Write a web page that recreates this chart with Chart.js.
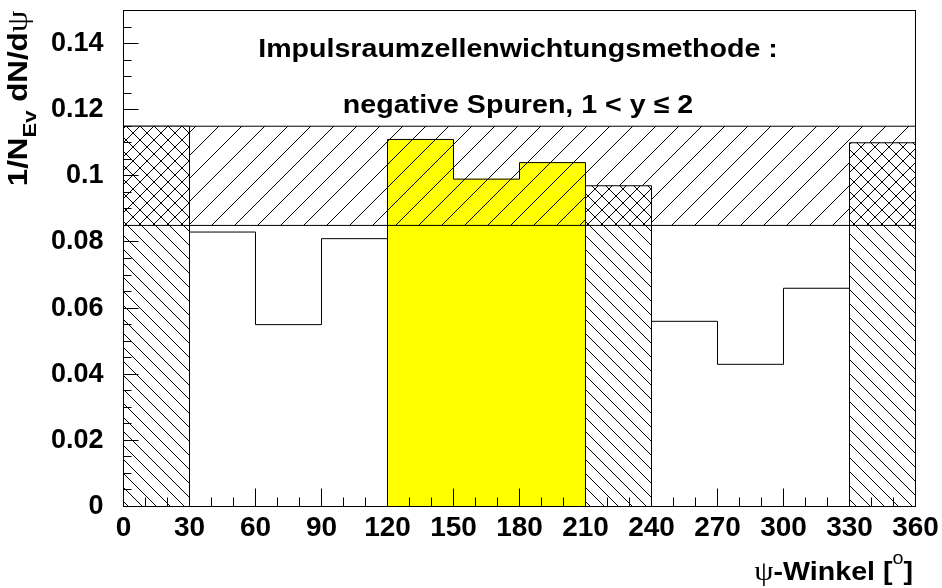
<!DOCTYPE html>
<html>
<head>
<meta charset="utf-8">
<script src="https://cdn.jsdelivr.net/npm/chart.js@4.4.0/dist/chart.umd.min.js"></script>
<style>
html, body { margin: 0; padding: 0; background: #fff; }
</style>
</head>
<body>
<canvas id="psiChart" width="942" height="588"></canvas>
<script>
// lower bin edges in degrees, bin width
var psiEdges = [0, 30, 60, 90, 120, 150, 180, 210, 240, 270, 300, 330];
var binWidth = 30;
// 1/N_Ev dN/dpsi per bin
var dNdPsi = [0.115, 0.083, 0.055, 0.081, 0.111, 0.099, 0.104, 0.097, 0.056, 0.043, 0.066, 0.110];
// cut = hatched bins, sel = yellow bins, open = plain
var binKind = ['cut', 'open', 'open', 'open', 'sel', 'sel', 'sel', 'cut', 'open', 'open', 'open', 'cut'];
// hatched band
var band = [0.085, 0.115];
// axis ticks
var xMajor = [0, 30, 60, 90, 120, 150, 180, 210, 240, 270, 300, 330, 360];
var xMinorStep = 10;
var yMajor = [0, 0.02, 0.04, 0.06, 0.08, 0.1, 0.12, 0.14];
var yMinorStep = 0.005;

var headline = ['Impulsraumzellenwichtungsmethode :', 'negative Spuren, 1 < y \u2264 2'];

var FONT = '"Liberation Sans", Arial, sans-serif';
var canvas = document.getElementById('psiChart');
var ctx = canvas.getContext('2d');

function hatch(size, dir, bg) {
	var c = document.createElement('canvas');
	c.width = size; c.height = size;
	var g = c.getContext('2d');
	if (bg) { g.fillStyle = bg; g.fillRect(0, 0, size, size); }
	g.strokeStyle = '#000';
	g.lineWidth = 1;
	g.beginPath();
	for (var k = -1; k <= 1; k++) {
		if (dir === '/') { g.moveTo(k * size, size); g.lineTo(k * size + size, 0); }
		else { g.moveTo(k * size, 0); g.lineTo(k * size + size, size); }
	}
	g.stroke();
	return ctx.createPattern(c, 'repeat');
}

var centers = psiEdges.map(function (e) { return e + binWidth / 2; });
var xEnd = psiEdges[psiEdges.length - 1] + binWidth;

function binsOf(kind) {
	var out = [];
	centers.forEach(function (c, i) { if (binKind[i] === kind) out.push({x: c, y: dNdPsi[i]}); });
	return out;
}

var crossPart = [];
centers.forEach(function (c, i) {
	if (binKind[i] === 'cut' && dNdPsi[i] > band[0]) crossPart.push({x: c, y: [band[0], Math.min(dNdPsi[i], band[1])]});
});

// histogram outline, dropping to zero where the fill kind changes
var outline = [{x: psiEdges[0], y: 0}];
psiEdges.forEach(function (e, i) {
	if (i > 0 && binKind[i] !== binKind[i - 1]) outline.push({x: e, y: 0});
	outline.push({x: e, y: dNdPsi[i]});
});
outline.push({x: xEnd, y: dNdPsi[dNdPsi.length - 1]});
outline.push({x: xEnd, y: 0});

// draws runs of [text, font, dy] one after the other, stretched a bit
function drawRuns(c, runs, stretch) {
	var w = 0;
	runs.forEach(function (r) { c.font = r[1]; r.w = c.measureText(r[0]).width; w += r.w; });
	return {
		width: w * stretch,
		draw: function (x, y) {
			c.save();
			c.translate(x, y);
			c.scale(stretch, 1);
			var px = 0;
			runs.forEach(function (r) { c.font = r[1]; c.fillText(r[0], px, r[2]); px += r.w; });
			c.restore();
		}
	};
}

var decor = {
	id: 'decor',
	afterDatasetsDraw: function (chart) {
		var c = chart.ctx, a = chart.chartArea, xs = chart.scales.x, ys = chart.scales.y;
		c.save();
		c.strokeStyle = '#000';
		c.lineWidth = 1;
		c.beginPath();
		var n, v, p, major;
		for (n = 0; n * xMinorStep <= xs.max - xs.min + 1e-9; n++) {
			v = xs.min + n * xMinorStep;
			major = xMajor.some(function (m) { return Math.abs(m - v) < 1e-9; });
			p = Math.round(xs.getPixelForValue(v) - 0.5) + 0.5;
			c.moveTo(p, a.bottom);
			c.lineTo(p, a.bottom - (major ? 18 : 9));
		}
		for (n = 0; n * yMinorStep <= ys.max - ys.min + 1e-9; n++) {
			v = ys.min + n * yMinorStep;
			major = yMajor.some(function (m) { return Math.abs(m - v) < 1e-9; });
			p = Math.round(ys.getPixelForValue(v) - 0.5) + 0.5;
			c.moveTo(a.left, p);
			c.lineTo(a.left + (major ? 15 : 8), p);
		}
		c.stroke();
		c.strokeRect(a.left, a.top, a.right - a.left, a.bottom - a.top);

		c.fillStyle = '#000';
		c.textAlign = 'left';
		c.textBaseline = 'alphabetic';
		var boldFont = 'bold 26px ' + FONT;
		var psiFont = '28px "Liberation Serif", serif';

		// headline
		headline.forEach(function (t, i) {
			var r = drawRuns(c, [[t, boldFont, 0]], 1.1);
			r.draw(518 - r.width / 2, i === 0 ? 57 : 113);
		});

		// x title
		var xt = drawRuns(c, [
			['\u03c8', psiFont, 0],
			['-Winkel [', boldFont, 0],
			['o', '18px ' + FONT, -16],
			[']', boldFont, 0]
		], 1.1);
		xt.draw(913 - xt.width, 580);

		// y title, rotated
		var yt = drawRuns(c, [
			['1/N', 'bold 27px ' + FONT, 0],
			['Ev', 'bold 19px ' + FONT, 9],
			[' dN/d', 'bold 27px ' + FONT, 0],
			['\u03c8', '30px "Liberation Serif", serif', 0]
		], 1.16);
		c.save();
		c.translate(27, a.top + yt.width);
		c.rotate(-Math.PI / 2);
		yt.draw(0, 0);
		c.restore();
		c.restore();
	}
};

var psiChart = new Chart(ctx, {
	type: 'bar',
	data: {
		datasets: [
			{
				label: 'selected',
				data: binsOf('sel'),
				backgroundColor: '#ffff00',
				borderWidth: 0,
				order: 7
			},
			{
				type: 'line',
				label: 'band low',
				data: [{x: psiEdges[0], y: band[0]}, {x: xEnd, y: band[0]}],
				borderColor: '#000',
				borderWidth: 1,
				pointRadius: 0,
				fill: false,
				order: 2
			},
			{
				type: 'line',
				label: 'band high',
				data: [{x: psiEdges[0], y: band[1]}, {x: xEnd, y: band[1]}],
				borderColor: '#000',
				borderWidth: 1,
				pointRadius: 0,
				fill: '-1',
				backgroundColor: hatch(23, '/', null),
				order: 6
			},
			{
				label: 'cut',
				data: binsOf('cut'),
				backgroundColor: hatch(14, '\\', '#fff'),
				borderWidth: 0,
				order: 5
			},
			{
				label: 'cut in band',
				data: crossPart,
				backgroundColor: hatch(14, '/', null),
				borderWidth: 0,
				order: 4
			},
			{
				type: 'line',
				label: 'outline',
				data: outline,
				stepped: true,
				borderColor: '#000',
				borderWidth: 1,
				pointRadius: 0,
				fill: false,
				order: 1
			}
		]
	},
	options: {
		responsive: false,
		animation: false,
		events: [],
		grouped: false,
		barPercentage: 1,
		categoryPercentage: 1,
		layout: { padding: { top: 10.5, right: 26.5, left: 0, bottom: 0 } },
		plugins: {
			legend: { display: false },
			tooltip: { enabled: false },
			title: { display: false }
		},
		scales: {
			x: {
				type: 'linear',
				min: 0,
				max: 360,
				offset: false,
				afterBuildTicks: function (s) { s.ticks = xMajor.map(function (v) { return {value: v}; }); },
				afterFit: function (s) { s.height = 81.5; s.paddingLeft = 0; s.paddingRight = 0; },
				grid: { display: false, drawTicks: false, offset: false },
				border: { display: false },
				ticks: {
					autoSkip: false,
					maxRotation: 0,
					padding: 5,
					color: '#000',
					font: { family: FONT, weight: 'bold', size: 28 },
					callback: function (v) { return String(v); }
				}
			},
			y: {
				type: 'linear',
				min: 0,
				max: 0.15,
				afterBuildTicks: function (s) { s.ticks = yMajor.map(function (v) { return {value: v}; }); },
				afterFit: function (s) { s.width = 123.5; s.paddingTop = 0; s.paddingBottom = 0; },
				grid: { display: false, drawTicks: false },
				border: { display: false },
				ticks: {
					padding: 20,
					color: '#000',
					font: { family: FONT, weight: 'bold', size: 27 },
					callback: function (v) { return String(+v.toFixed(3)); }
				}
			}
		}
	},
	plugins: [decor]
});
</script>
</body>
</html>
